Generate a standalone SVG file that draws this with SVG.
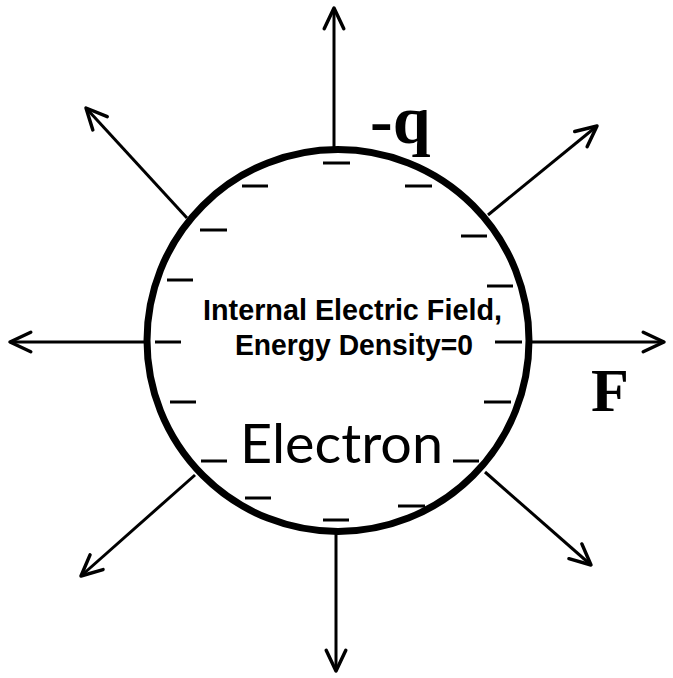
<svg xmlns="http://www.w3.org/2000/svg" width="673" height="678" viewBox="0 0 673 678">
<style>
.ln{stroke:#000;stroke-width:3;fill:none}
.ds{stroke:#000;stroke-width:3;stroke-linecap:butt}
.arr{marker-end:url(#ah)}
.lbl{font-family:"Liberation Sans",Arial,sans-serif;font-weight:bold;font-size:30px;fill:#000}
.big{font-family:"Liberation Serif","Times New Roman",serif;font-weight:bold;fill:#000}
</style>
<defs>
<marker id="ah" markerUnits="userSpaceOnUse" markerWidth="30" markerHeight="30" viewBox="-22 -12 26 24" refX="0" refY="0" orient="auto">
<path d="M -18 -8.5 L 0 0 L -18 8.5" fill="none" stroke="#000" stroke-width="3" stroke-linecap="round" stroke-linejoin="round"/>
</marker>
</defs>
<g id="connectors">
<line class="ln arr" x1="334" y1="149" x2="334" y2="8"/>
<line class="ln arr" x1="336" y1="532" x2="336" y2="671"/>
<line class="ln arr" x1="148" y1="342" x2="10" y2="342"/>
<line class="ln arr" x1="528" y1="342" x2="664" y2="342"/>
<line class="ln arr" x1="187" y1="218" x2="86" y2="108"/>
<line class="ln arr" x1="488" y1="215" x2="597" y2="126"/>
<line class="ln arr" x1="485" y1="472" x2="591" y2="565"/>
<line class="ln arr" x1="195" y1="475" x2="81" y2="576"/>
</g>
<g id="electron">
<circle cx="338" cy="340.5" r="191" fill="none" stroke="#000" stroke-width="7"/>
<g id="charges">
<line class="ds" x1="323" y1="163" x2="350" y2="163"/>
<line class="ds" x1="242" y1="186" x2="268" y2="186"/>
<line class="ds" x1="405" y1="186" x2="432" y2="186"/>
<line class="ds" x1="200" y1="230" x2="227" y2="230"/>
<line class="ds" x1="461" y1="236" x2="487" y2="236"/>
<line class="ds" x1="167" y1="280" x2="193" y2="280"/>
<line class="ds" x1="487" y1="286" x2="513" y2="286"/>
<line class="ds" x1="155" y1="342" x2="181" y2="342"/>
<line class="ds" x1="495" y1="342" x2="522" y2="342"/>
<line class="ds" x1="170" y1="402" x2="196" y2="402"/>
<line class="ds" x1="484" y1="402" x2="511" y2="402"/>
<line class="ds" x1="201" y1="461" x2="227" y2="461"/>
<line class="ds" x1="453" y1="461" x2="479" y2="461"/>
<line class="ds" x1="245" y1="498" x2="271" y2="498"/>
<line class="ds" x1="398" y1="506" x2="425" y2="506"/>
<line class="ds" x1="323" y1="520" x2="349" y2="520"/>
</g>
<text class="lbl" x="203" y="320" textLength="299" lengthAdjust="spacingAndGlyphs">Internal Electric Field,</text>
<text class="lbl" x="235" y="355" textLength="238" lengthAdjust="spacingAndGlyphs">Energy Density=0</text>
<text x="240" y="463" font-family="Lato,'Open Sans',sans-serif" font-size="54" fill="#000" textLength="203" lengthAdjust="spacingAndGlyphs">Electron</text>
</g>
<g id="label-q">
<text class="big" x="370" y="143" font-size="68">-q</text>
</g>
<g id="label-F">
<text class="big" x="591" y="411" font-size="62">F</text>
</g>
</svg>
